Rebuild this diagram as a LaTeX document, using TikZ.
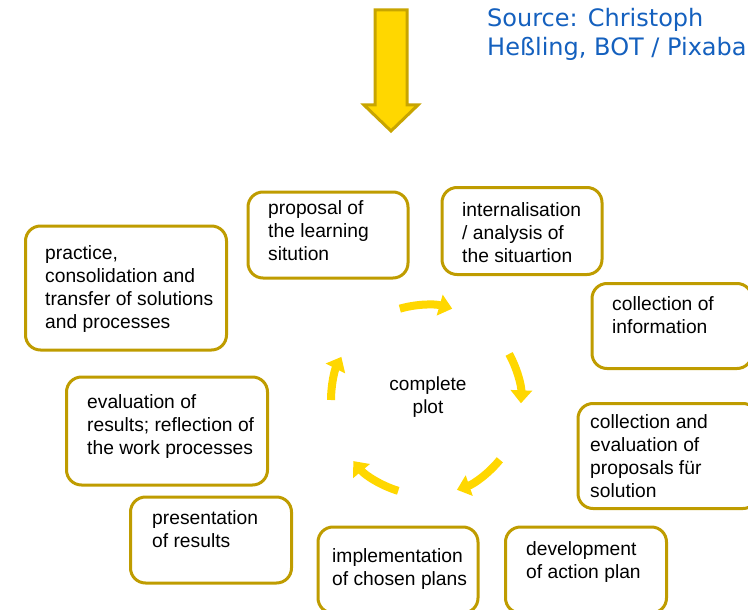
\documentclass[tikz,border=0pt]{standalone}
\usepackage{fontspec}
\setmainfont{Liberation Sans}
\newfontfamily\sourcefont{DejaVu Sans}
\usetikzlibrary{positioning,calc,arrows.meta}

\definecolor{boxgold}{RGB}{191,156,0}
\definecolor{arrowgold}{RGB}{255,215,0}
\definecolor{arrowedge}{RGB}{200,165,0}
\definecolor{sourceblue}{RGB}{20,96,190}

\tikzset{
    phasebox/.style={draw=boxgold, line width=3pt, rounded corners=15pt, inner sep=0pt},
    phasetext/.style={align=left, inner sep=0pt, anchor=north west,
        font=\fontsize{19.25}{23}\selectfont},
    cyclearrow/.style={draw=arrowgold, line width=8pt,
        -{Triangle[width=21pt,length=13pt]}}
}

\begin{document}
\begin{tikzpicture}[x=1pt,y=-1pt]
    % Fix picture size
    \useasboundingbox (0,0) rectangle (748,610);
    \clip (0,0) rectangle (748,610);

    % Draw source note
    \node[align=left, inner sep=0pt, anchor=north west, text=sourceblue,
        font=\sourcefont\fontsize{24}{29}\selectfont] (source) at (487,6)
        {\strut Source: Christoph\\Heßling, BOT / Pixaba};

    % Draw big down arrow
    \draw[fill=arrowgold, draw=arrowedge, line width=3pt, line join=miter]
        (375,10) -- (407,10) -- (407,105) -- (418,105) -- (391,131)
        -- (364,105) -- (375,105) -- cycle;

    % Draw phase boxes
    \node[phasebox, minimum width=160, minimum height=86] (proposal) at (328,235) {};
    \node[phasebox, minimum width=160, minimum height=87] (analysis) at (522,231) {};
    \node[phasebox, minimum width=160, minimum height=85] (information) at (672,326) {};
    \node[phasebox, minimum width=180, minimum height=105] (proposals) at (668,456) {};
    \node[phasebox, minimum width=161, minimum height=86] (actionplan) at (586,570) {};
    \node[phasebox, minimum width=160, minimum height=86] (implementation) at (398,570) {};
    \node[phasebox, minimum width=161, minimum height=86] (presentation) at (211,540) {};
    \node[phasebox, minimum width=201, minimum height=108] (evaluation) at (167,431) {};
    \node[phasebox, minimum width=201, minimum height=124] (practice) at (126,288) {};

    % Draw box texts
    \node[phasetext] (proposal-text) at (268,198) {\strut proposal of\\the learning\\sitution};
    \node[phasetext] (analysis-text) at (462,200) {\strut internalisation\\/ analysis of\\the situartion};
    \node[phasetext] (information-text) at (612,294) {\strut collection of\\information};
    \node[phasetext] (proposals-text) at (590,412) {\strut collection and\\evaluation of\\proposals für\\solution};
    \node[phasetext] (actionplan-text) at (526,539) {\strut development\\of action plan};
    \node[phasetext] (implementation-text) at (332,546) {\strut implementation\\of chosen plans};
    \node[phasetext] (presentation-text) at (152,508) {\strut presentation\\of results};
    \node[phasetext] (evaluation-text) at (87,392) {\strut evaluation of\\results; reflection of\\the work processes};
    \node[phasetext] (practice-text) at (45,243) {\strut practice,\\consolidation and\\transfer of solutions\\and processes};

    % Draw centre and cycle arrows
    \coordinate (centre) at (426,400);
    \node[align=center, inner sep=0pt, anchor=north,
        font=\fontsize{19}{23}\selectfont] (plot) at (428,374) {\strut complete\\plot};
    \foreach \a/\b in {-106/-74, -29/2, 39/71, 107/140, -180/-153}
        \draw[cyclearrow] ($(centre)+(\a:95)$) arc[start angle=\a, end angle=\b, radius=95];
\end{tikzpicture}
\end{document}
